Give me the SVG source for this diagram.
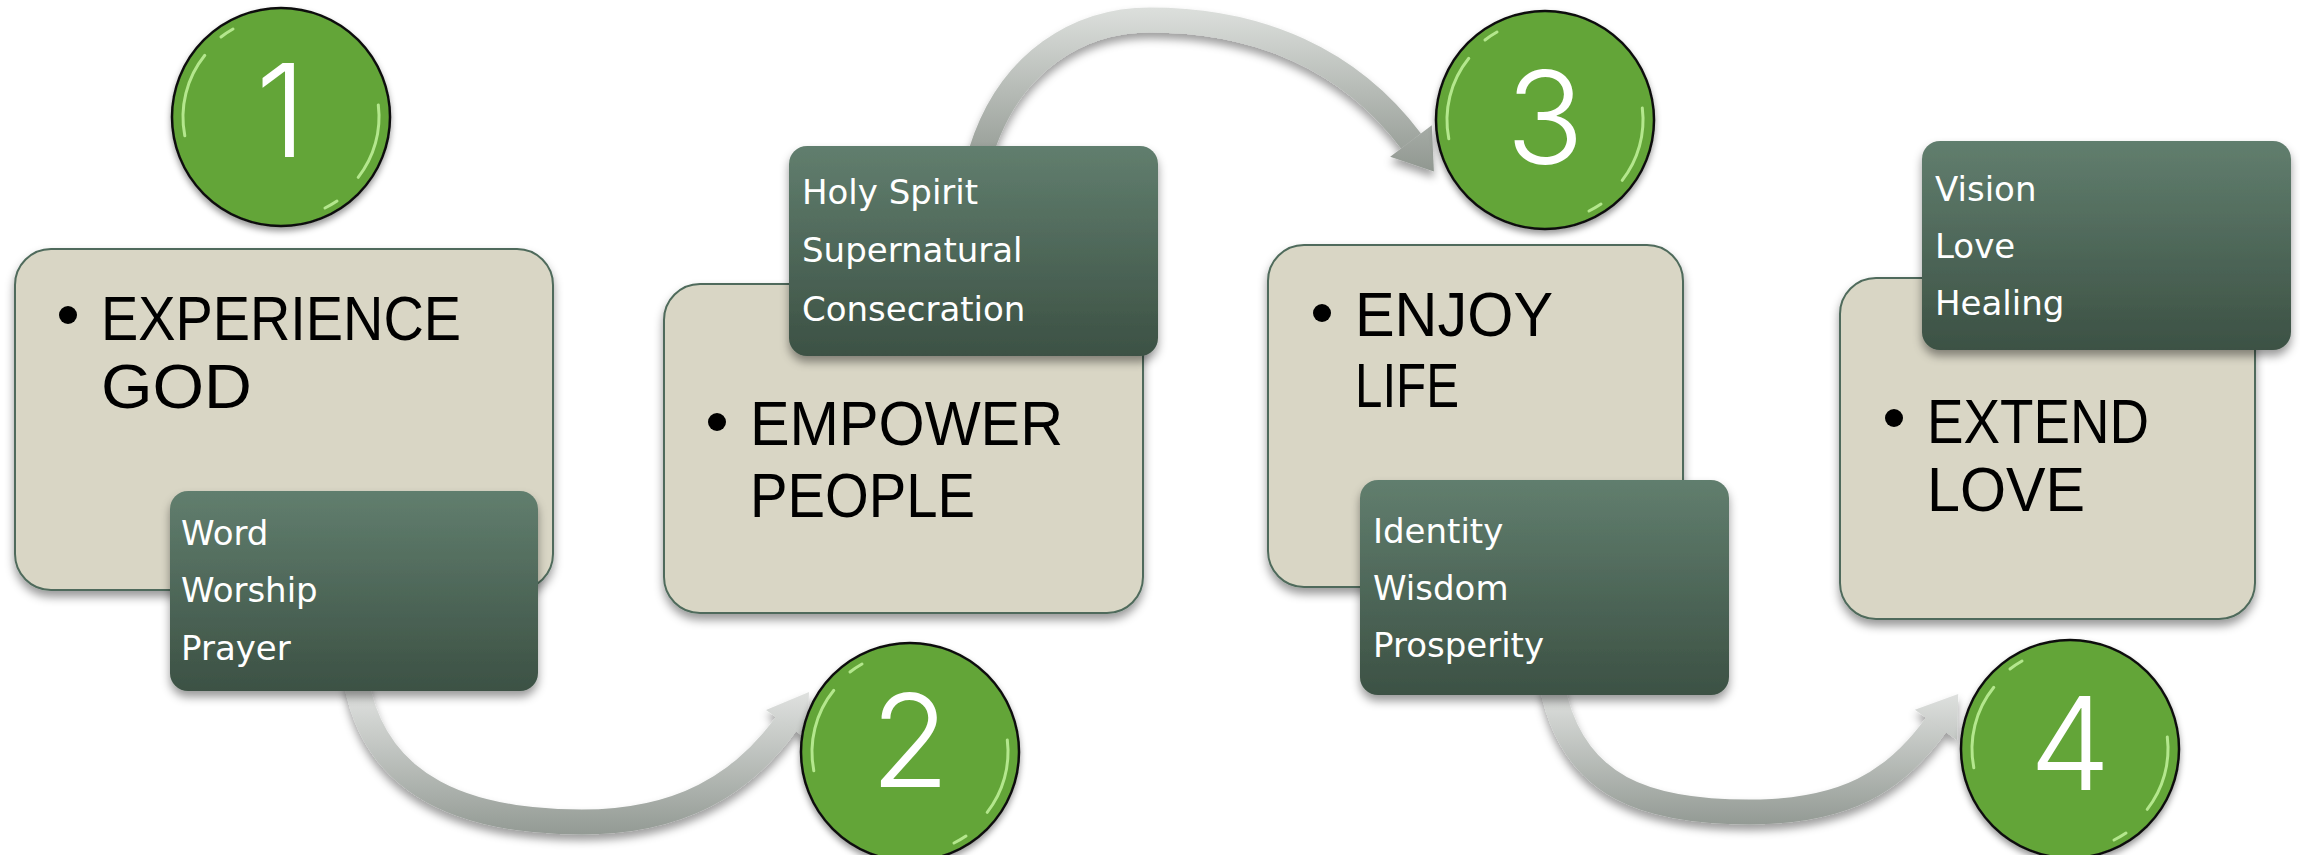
<svg xmlns="http://www.w3.org/2000/svg" xmlns:xlink="http://www.w3.org/1999/xlink" width="2300" height="855" viewBox="0 0 2300 855">
<defs>
<style>
.beige{fill:#d9d6c5;stroke:#4f6b5b;stroke-width:2}
.dark{fill:url(#gd)}
.big{font-family:"Liberation Sans",Arial,sans-serif;font-size:63px;fill:#000}
.small{font-family:"DejaVu Sans",sans-serif;font-size:34px;fill:#fff}
.num{font-family:Inter,Lato,"Liberation Sans",sans-serif;font-weight:300;font-size:129px;fill:#fff;text-anchor:middle}
.hl{fill:none;stroke:#c8f7a2;stroke-width:3;stroke-linecap:round;opacity:.8}
.body{fill:none;stroke-width:25}
</style>
<linearGradient id="gd" x1="0" y1="0" x2="0" y2="1"><stop offset="0" stop-color="#617e6e"/><stop offset="1" stop-color="#3c5144"/></linearGradient>
<linearGradient id="ga1" gradientUnits="userSpaceOnUse" x1="0" y1="690" x2="0" y2="835"><stop offset="0" stop-color="#e0e2e0"/><stop offset="1" stop-color="#939a94"/></linearGradient>
<linearGradient id="ga2" gradientUnits="userSpaceOnUse" x1="0" y1="8" x2="0" y2="175"><stop offset="0" stop-color="#dcdfdc"/><stop offset="1" stop-color="#8f968f"/></linearGradient>
<linearGradient id="ga3" gradientUnits="userSpaceOnUse" x1="0" y1="690" x2="0" y2="825"><stop offset="0" stop-color="#e0e2e0"/><stop offset="1" stop-color="#939a94"/></linearGradient>
<filter id="sh" x="-10%" y="-10%" width="120%" height="130%"><feDropShadow dx="0" dy="6" stdDeviation="5" flood-color="#000" flood-opacity="0.4"/></filter>
<filter id="shc" x="-20%" y="-20%" width="140%" height="150%"><feDropShadow dx="0" dy="4" stdDeviation="3" flood-color="#000" flood-opacity="0.4"/></filter>
<filter id="sha" x="-20%" y="-20%" width="140%" height="150%"><feDropShadow dx="0" dy="6" stdDeviation="4" flood-color="#000" flood-opacity="0.38"/></filter>
<filter id="soft"><feGaussianBlur stdDeviation="0.6"/></filter>
<g id="ball">
<circle r="109" fill="#63a538" stroke="#111" stroke-width="2.5"/>
<g filter="url(#soft)">
<path class="hl" d="M-76.2,-61.7 A98,98 0 0 0 -96.2,18.7"/>
<path class="hl" d="M97.3,-12 A98,98 0 0 1 77.2,60.3"/>
<path class="hl" d="M-60,-80 A100,100 0 0 1 -48,-88" opacity=".45"/>
<path class="hl" d="M56,84 A100,100 0 0 1 44,91" opacity=".45"/>
</g>
</g>
</defs>
<rect width="2300" height="855" fill="#fff"/>

<g id="connectors" filter="url(#sha)">
<g id="arrow1">
<path class="body" stroke="url(#ga1)" d="M356,680 C375,790 470,822 582,822 C680,822 742,785 786,724"/>
<polygon fill="url(#ga1)" points="809,692 807.1,739.2 766,710"/>
</g>
<g id="arrow2">
<path class="body" stroke="url(#ga2)" d="M981,152 C1010,60 1080,20 1150,20 C1260,20 1350,60 1411,141"/>
<polygon fill="url(#ga2)" points="1433.9,171.4 1431.8,125.3 1390.2,156.7"/>
</g>
<g id="arrow3">
<path class="body" stroke="url(#ga3)" d="M1552,685 C1572,790 1650,812 1749,812 C1845,812 1895,782 1936,725"/>
<polygon fill="url(#ga3)" points="1958.2,694.1 1957.1,740.2 1914.9,709.8"/>
</g>
</g>

<g id="box1">
<rect class="beige" x="15" y="249" width="538" height="341" rx="36" filter="url(#sh)"/>
<circle cx="68" cy="315" r="9"/>
<text class="big" x="101" y="340" textLength="360" lengthAdjust="spacingAndGlyphs">EXPERIENCE</text>
<text class="big" x="101" y="408" textLength="151" lengthAdjust="spacingAndGlyphs">GOD</text>
</g>
<g id="sub1">
<rect class="dark" x="170" y="491" width="368" height="200" rx="18" filter="url(#sh)"/>
<text class="small" x="181" y="545">Word</text>
<text class="small" x="181" y="602">Worship</text>
<text class="small" x="181" y="660">Prayer</text>
</g>
<g id="num1">
<use xlink:href="#ball" href="#ball" x="281" y="117" filter="url(#shc)"/>
<text class="num" x="281" y="157">1</text>
</g>

<g id="box2">
<rect class="beige" x="664" y="284" width="479" height="329" rx="36" filter="url(#sh)"/>
<circle cx="717" cy="422" r="9"/>
<text class="big" x="750" y="445" textLength="313" lengthAdjust="spacingAndGlyphs">EMPOWER</text>
<text class="big" x="750" y="517" textLength="225" lengthAdjust="spacingAndGlyphs">PEOPLE</text>
</g>
<g id="sub2">
<rect class="dark" x="789" y="146" width="369" height="210" rx="18" filter="url(#sh)"/>
<text class="small" x="802" y="204">Holy Spirit</text>
<text class="small" x="802" y="262">Supernatural</text>
<text class="small" x="802" y="321">Consecration</text>
</g>
<g id="num2">
<use xlink:href="#ball" href="#ball" x="910" y="752" filter="url(#shc)"/>
<text class="num" x="910" y="787">2</text>
</g>

<g id="box3">
<rect class="beige" x="1268" y="245" width="415" height="342" rx="36" filter="url(#sh)"/>
<circle cx="1322" cy="313" r="9"/>
<text class="big" x="1355" y="336" textLength="198" lengthAdjust="spacingAndGlyphs">ENJOY</text>
<text class="big" x="1355" y="407" textLength="104" lengthAdjust="spacingAndGlyphs">LIFE</text>
</g>
<g id="sub3">
<rect class="dark" x="1360" y="480" width="369" height="215" rx="18" filter="url(#sh)"/>
<text class="small" x="1373" y="543">Identity</text>
<text class="small" x="1373" y="600">Wisdom</text>
<text class="small" x="1373" y="657">Prosperity</text>
</g>
<g id="num3">
<use xlink:href="#ball" href="#ball" x="1545" y="120" filter="url(#shc)"/>
<text class="num" x="1545" y="164">3</text>
</g>

<g id="box4">
<rect class="beige" x="1840" y="278" width="415" height="341" rx="36" filter="url(#sh)"/>
<circle cx="1894" cy="418" r="9"/>
<text class="big" x="1927" y="443" textLength="222" lengthAdjust="spacingAndGlyphs">EXTEND</text>
<text class="big" x="1927" y="511" textLength="158" lengthAdjust="spacingAndGlyphs">LOVE</text>
</g>
<g id="sub4">
<rect class="dark" x="1922" y="141" width="369" height="209" rx="18" filter="url(#sh)"/>
<text class="small" x="1935" y="201">Vision</text>
<text class="small" x="1935" y="258">Love</text>
<text class="small" x="1935" y="315">Healing</text>
</g>
<g id="num4">
<use xlink:href="#ball" href="#ball" x="2070" y="749" filter="url(#shc)"/>
<text class="num" x="2070" y="790">4</text>
</g>
</svg>
